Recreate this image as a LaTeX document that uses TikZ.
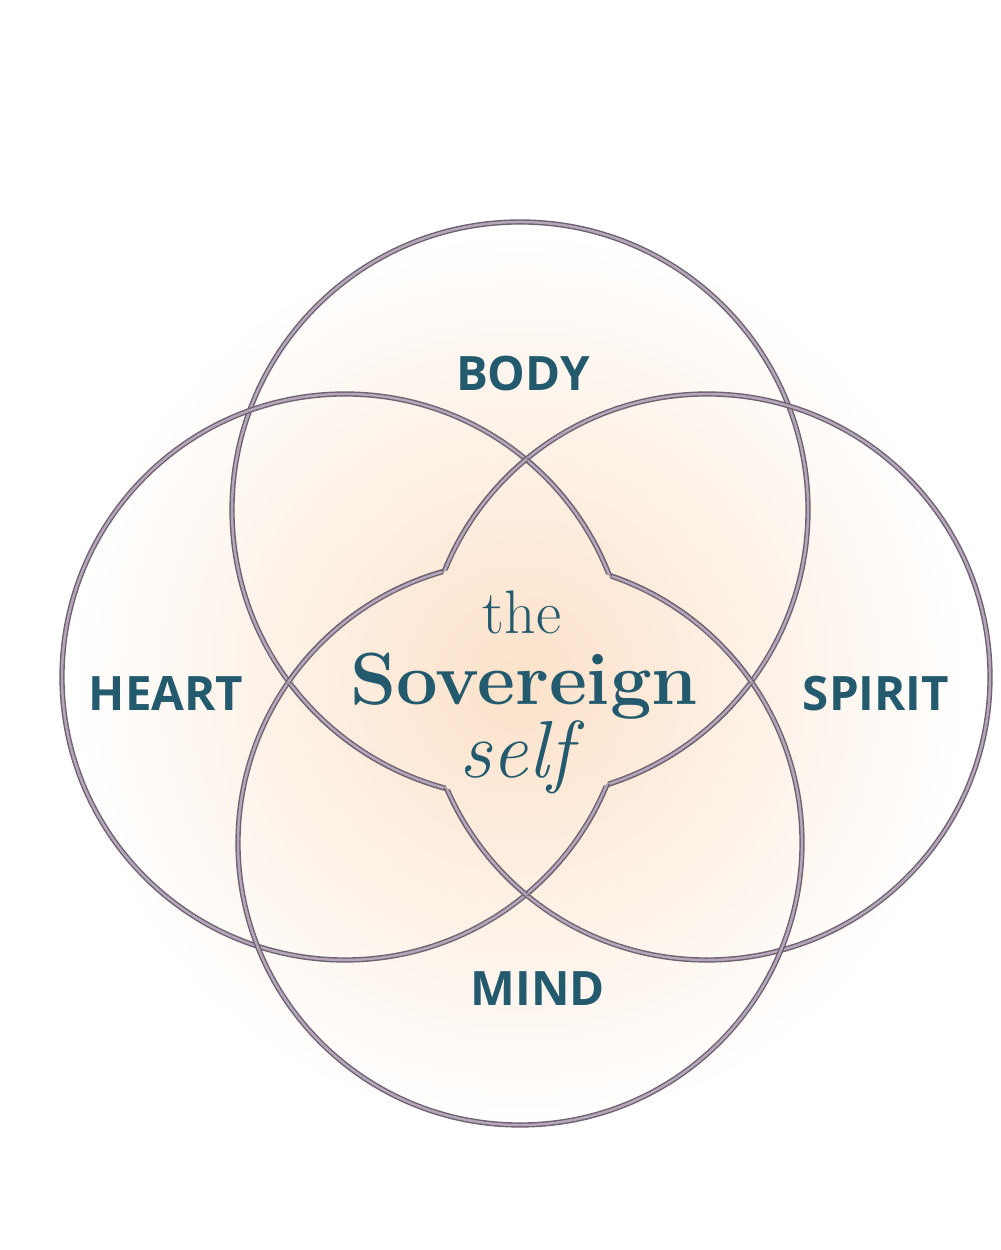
\documentclass[tikz,border=0pt]{standalone}
\usepackage{fontspec}
\newfontfamily\labelfont{Open Sans}
\definecolor{lineDark}{RGB}{108,98,112}
\definecolor{lineLight}{RGB}{182,166,186}
\definecolor{textTeal}{RGB}{35,90,110}
\definecolor{glowPeach}{RGB}{252,226,202}
\tikzset{
  ring/.style={draw=lineDark, double=lineLight, double distance=0.7pt, line width=0.4pt},
  glow/.style={inner color=glowPeach, outer color=white},
  circBody/.style={insert path={(520,740) circle [radius=288]}},
  circHeart/.style={insert path={(345,573) circle [radius=283]}},
  circSpirit/.style={insert path={(707,573) circle [radius=283]}},
  circMind/.style={insert path={(520,407) circle [radius=282]}},
  area/.style={font=\labelfont\bfseries\fontsize{13.5}{16}\selectfont, text=textTeal, anchor=base},
  core/.style={text=textTeal, anchor=base, inner sep=0pt}
}
% arc of #1 that lies inside #2 and outside #3
% (circle runs counter-clockwise, rectangle clockwise: the hole stays out)
\newcommand{\starArc}[3]{%
  \begin{scope}
    \clip[circ#2];
    \clip[circ#3] (-50,-50) rectangle (1050,1300);
    \path[ring, circ#1];
  \end{scope}}
\newcommand{\glowFill}{\shade[glow] (520,570) circle [radius=450];}

\begin{document}
\begin{tikzpicture}[x=0.1mm, y=0.1mm]
  \useasboundingbox (0,0) rectangle (1000,1250);
  \fill[white] (0,0) rectangle (1000,1250);
  \glowFill

  \path[ring, circBody];
  \path[ring, circHeart];
  \path[ring, circSpirit];
  \path[ring, circMind];

  % centre star
  \begin{scope}
    \clip[circBody]; \clip[circMind];
    \glowFill
  \end{scope}
  \begin{scope}
    \clip[circHeart]; \clip[circSpirit];
    \glowFill
  \end{scope}

  \starArc{Body}{Mind}{Heart}
  \starArc{Body}{Mind}{Spirit}
  \starArc{Mind}{Body}{Heart}
  \starArc{Mind}{Body}{Spirit}
  \starArc{Heart}{Spirit}{Body}
  \starArc{Heart}{Spirit}{Mind}
  \starArc{Spirit}{Heart}{Body}
  \starArc{Spirit}{Heart}{Mind}

  \node[area] (body) at (523,859) {BODY};
  \node[area] (heart) at (166,539) {HEART};
  \node[area] (spirit) at (876,539) {SPIRIT};
  \node[area] (mind) at (538,244) {MIND};

  \node[core, font=\fontsize{17.5}{19}\selectfont] (the) at (522,616) {the};
  \node[core, font=\bfseries\fontsize{21}{23}\selectfont] (sovereign) at (524,545) {Sovereign};
  \node[core, font=\itshape\fontsize{23}{25}\selectfont] (self) at (516,472) {self};
\end{tikzpicture}
\end{document}
